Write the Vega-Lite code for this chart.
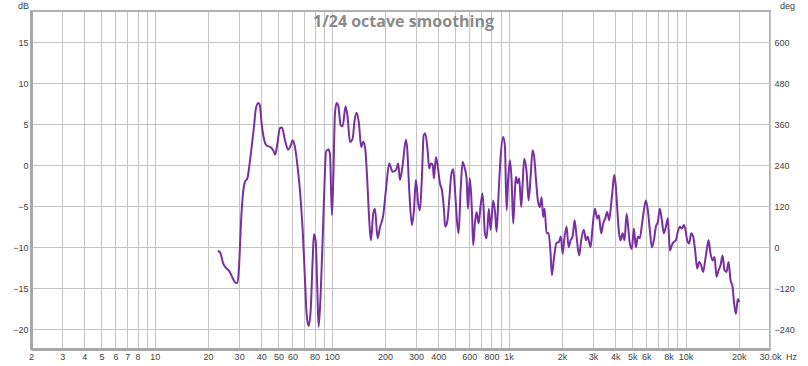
{
  "$schema": "https://vega.github.io/schema/vega-lite/v6.json",
  "width": 739,
  "height": 338,
  "autosize": {"type": "none"},
  "padding": {"left": 31, "top": 11, "right": 38, "bottom": 17},
  "background": "white",
  "config": {
    "view": {"stroke": "#b0b0b0", "strokeWidth": 2},
    "font": "Liberation Sans"
  },
  "title": {
    "text": "1/24 octave smoothing",
    "color": "#8a8a8a",
    "font": "Open Sans",
    "fontSize": 16,
    "fontWeight": "bold",
    "anchor": "middle",
    "frame": "group",
    "baseline": "bottom",
    "offset": -45,
    "dx": 3
  },
  "datasets": {
    "phase": [{"deg": -240}, {"deg": 600}],
    "fr": [
      {"hz": 22.7, "db": -10.45}, {"hz": 23.4, "db": -10.6}, {"hz": 24.4, "db": -12.0}, {"hz": 25.5, "db": -12.6},
      {"hz": 26.4, "db": -12.9}, {"hz": 27.8, "db": -13.9}, {"hz": 28.8, "db": -14.35}, {"hz": 29.3, "db": -14.3},
      {"hz": 30.1, "db": -11.6}, {"hz": 30.6, "db": -7.9}, {"hz": 31.4, "db": -3.9}, {"hz": 32.4, "db": -2.0},
      {"hz": 33.4, "db": -1.6}, {"hz": 34.2, "db": -0.2}, {"hz": 35.3, "db": 2.2}, {"hz": 36.4, "db": 4.7},
      {"hz": 37.3, "db": 6.9}, {"hz": 38.5, "db": 7.6}, {"hz": 39.3, "db": 7.3}, {"hz": 40.2, "db": 5.1},
      {"hz": 41.4, "db": 3.25}, {"hz": 42.9, "db": 2.4}, {"hz": 45.2, "db": 2.2}, {"hz": 46.8, "db": 1.8},
      {"hz": 48.0, "db": 1.3}, {"hz": 49.3, "db": 2.6}, {"hz": 51.0, "db": 4.5}, {"hz": 52.4, "db": 4.6},
      {"hz": 54.5, "db": 3.05}, {"hz": 56.8, "db": 1.9}, {"hz": 58.7, "db": 2.4}, {"hz": 60.2, "db": 3.05},
      {"hz": 61.8, "db": 2.4}, {"hz": 63.9, "db": 0.2}, {"hz": 66.2, "db": -3.05}, {"hz": 68.6, "db": -7.9},
      {"hz": 70.7, "db": -14.0}, {"hz": 72.2, "db": -18.1}, {"hz": 74.1, "db": -19.6}, {"hz": 76.1, "db": -17.7},
      {"hz": 78.1, "db": -11.6}, {"hz": 79.4, "db": -8.4}, {"hz": 81.2, "db": -9.15}, {"hz": 82.9, "db": -14.8},
      {"hz": 84.4, "db": -19.7}, {"hz": 86.7, "db": -15.6}, {"hz": 88.9, "db": -9.15}, {"hz": 91.3, "db": -1.8},
      {"hz": 92.8, "db": 1.6}, {"hz": 95.6, "db": 1.95}, {"hz": 97.8, "db": 1.4}, {"hz": 100.4, "db": -6.1},
      {"hz": 102.1, "db": -1.8}, {"hz": 104.4, "db": 6.3}, {"hz": 106.7, "db": 7.6}, {"hz": 109.0, "db": 7.3},
      {"hz": 112.4, "db": 4.9}, {"hz": 115.4, "db": 4.75}, {"hz": 119.9, "db": 7.2}, {"hz": 123.1, "db": 5.9},
      {"hz": 126.8, "db": 2.85}, {"hz": 131.4, "db": 3.25}, {"hz": 134.9, "db": 5.5}, {"hz": 138.4, "db": 6.4},
      {"hz": 142.6, "db": 5.1}, {"hz": 146.9, "db": 2.2}, {"hz": 150.8, "db": 2.85}, {"hz": 154.8, "db": 2.0},
      {"hz": 158.9, "db": -1.8}, {"hz": 163.1, "db": -6.7}, {"hz": 166.7, "db": -9.15}, {"hz": 171.8, "db": -5.9},
      {"hz": 175.6, "db": -5.3}, {"hz": 181.9, "db": -8.9}, {"hz": 187.4, "db": -7.6}, {"hz": 195.6, "db": -6.1},
      {"hz": 202.6, "db": -3.05}, {"hz": 211.5, "db": 0.2}, {"hz": 221.1, "db": -0.8}, {"hz": 230.8, "db": -0.6},
      {"hz": 237.8, "db": 0.2}, {"hz": 243.1, "db": -1.8}, {"hz": 251.8, "db": 0.0}, {"hz": 262.8, "db": 3.1},
      {"hz": 267.3, "db": 2.0}, {"hz": 274.4, "db": -3.05}, {"hz": 284.2, "db": -7.3}, {"hz": 291.7, "db": -5.5},
      {"hz": 299.4, "db": -1.8}, {"hz": 308.5, "db": -4.7}, {"hz": 315.4, "db": -5.5}, {"hz": 323.7, "db": -1.4},
      {"hz": 331.0, "db": 3.65}, {"hz": 337.9, "db": 3.9}, {"hz": 348.6, "db": 1.8}, {"hz": 355.9, "db": -0.4},
      {"hz": 363.9, "db": 0.2}, {"hz": 372.1, "db": 0.1}, {"hz": 378.4, "db": -1.6}, {"hz": 388.4, "db": 1.0},
      {"hz": 400.2, "db": -0.6}, {"hz": 409.1, "db": -2.2}, {"hz": 419.9, "db": -3.05}, {"hz": 430.9, "db": -5.3},
      {"hz": 438.3, "db": -7.5}, {"hz": 449.9, "db": -6.9}, {"hz": 461.7, "db": -4.3}, {"hz": 473.8, "db": -1.2},
      {"hz": 486.3, "db": -0.5}, {"hz": 499.1, "db": -3.45}, {"hz": 512.3, "db": -7.1}, {"hz": 521.7, "db": -8.3},
      {"hz": 535.5, "db": -3.05}, {"hz": 549.5, "db": 0.4}, {"hz": 564.0, "db": -0.3}, {"hz": 578.8, "db": -1.6},
      {"hz": 588.8, "db": -5.3}, {"hz": 604.3, "db": -1.6}, {"hz": 620.2, "db": -5.5}, {"hz": 630.9, "db": -9.75},
      {"hz": 645.0, "db": -7.1}, {"hz": 659.4, "db": -5.7}, {"hz": 676.8, "db": -7.1}, {"hz": 694.6, "db": -4.9},
      {"hz": 712.9, "db": -3.45}, {"hz": 734.5, "db": -8.3}, {"hz": 750.9, "db": -8.9}, {"hz": 773.7, "db": -5.3},
      {"hz": 791.0, "db": -7.9}, {"hz": 818.3, "db": -4.3}, {"hz": 839.9, "db": -5.9}, {"hz": 855.3, "db": -8.1},
      {"hz": 877.9, "db": -3.45}, {"hz": 901.0, "db": 1.0}, {"hz": 932.0, "db": 3.45}, {"hz": 952.8, "db": 2.4},
      {"hz": 974.1, "db": -5.5}, {"hz": 994.5, "db": -1.6}, {"hz": 1016.8, "db": 0.6}, {"hz": 1039.5, "db": -1.8},
      {"hz": 1061.6, "db": -7.1}, {"hz": 1085.3, "db": -3.05}, {"hz": 1099.4, "db": -1.4}, {"hz": 1123.9, "db": -2.2},
      {"hz": 1147.7, "db": -1.6}, {"hz": 1178.0, "db": -5.1}, {"hz": 1199.6, "db": -2.4}, {"hz": 1224.7, "db": 0.8},
      {"hz": 1263.7, "db": -0.8}, {"hz": 1297.0, "db": -4.3}, {"hz": 1331.2, "db": -1.4}, {"hz": 1366.3, "db": 1.8},
      {"hz": 1395.2, "db": 1.0}, {"hz": 1426.3, "db": -1.6}, {"hz": 1463.9, "db": -4.3}, {"hz": 1502.4, "db": -5.1},
      {"hz": 1536.0, "db": -3.9}, {"hz": 1568.2, "db": -6.3}, {"hz": 1597.0, "db": -5.3}, {"hz": 1639.1, "db": -8.3},
      {"hz": 1682.3, "db": -8.25}, {"hz": 1726.7, "db": -10.8}, {"hz": 1756.2, "db": -13.4}, {"hz": 1802.5, "db": -11.4},
      {"hz": 1862.1, "db": -9.5}, {"hz": 1923.7, "db": -9.35}, {"hz": 1974.4, "db": -8.7}, {"hz": 2018.4, "db": -10.8},
      {"hz": 2071.6, "db": -8.7}, {"hz": 2126.2, "db": -7.5}, {"hz": 2182.3, "db": -10.0}, {"hz": 2239.9, "db": -9.15},
      {"hz": 2299.0, "db": -8.7}, {"hz": 2359.6, "db": -6.7}, {"hz": 2421.9, "db": -8.7}, {"hz": 2504.9, "db": -11.0},
      {"hz": 2570.9, "db": -9.15}, {"hz": 2663.0, "db": -7.85}, {"hz": 2733.3, "db": -9.15}, {"hz": 2794.5, "db": -8.7},
      {"hz": 2905.6, "db": -10.0}, {"hz": 2982.2, "db": -7.5}, {"hz": 3073.0, "db": -5.3}, {"hz": 3166.4, "db": -6.5},
      {"hz": 3236.4, "db": -6.1}, {"hz": 3334.8, "db": -8.3}, {"hz": 3422.7, "db": -7.1}, {"hz": 3512.9, "db": -6.5},
      {"hz": 3605.4, "db": -5.7}, {"hz": 3700.4, "db": -6.7}, {"hz": 3797.9, "db": -4.7}, {"hz": 3867.6, "db": -3.05},
      {"hz": 3949.3, "db": -1.2}, {"hz": 4037.6, "db": -2.65}, {"hz": 4106.7, "db": -5.1}, {"hz": 4198.5, "db": -8.1},
      {"hz": 4292.4, "db": -9.15}, {"hz": 4405.5, "db": -8.3}, {"hz": 4521.6, "db": -9.15}, {"hz": 4640.8, "db": -5.9},
      {"hz": 4738.3, "db": -7.5}, {"hz": 4844.1, "db": -9.55}, {"hz": 4971.8, "db": -10.2}, {"hz": 5102.9, "db": -7.7},
      {"hz": 5237.4, "db": -10.0}, {"hz": 5375.5, "db": -8.7}, {"hz": 5517.2, "db": -8.9}, {"hz": 5662.6, "db": -7.3},
      {"hz": 5811.9, "db": -5.5}, {"hz": 5965.1, "db": -4.3}, {"hz": 6122.3, "db": -5.5}, {"hz": 6283.7, "db": -7.9},
      {"hz": 6449.4, "db": -10.0}, {"hz": 6619.4, "db": -9.15}, {"hz": 6793.9, "db": -7.5}, {"hz": 6973.0, "db": -6.9},
      {"hz": 7156.8, "db": -5.3}, {"hz": 7345.5, "db": -6.7}, {"hz": 7539.1, "db": -8.3}, {"hz": 7737.9, "db": -7.5},
      {"hz": 7941.9, "db": -6.5}, {"hz": 8151.3, "db": -10.4}, {"hz": 8366.1, "db": -9.75}, {"hz": 8586.7, "db": -9.35},
      {"hz": 8813.1, "db": -9.15}, {"hz": 9045.4, "db": -8.1}, {"hz": 9283.8, "db": -7.5}, {"hz": 9528.6, "db": -7.7},
      {"hz": 9779.8, "db": -7.3}, {"hz": 9997, "db": -7.9}, {"hz": 10209, "db": -9.15}, {"hz": 10478, "db": -9.55},
      {"hz": 10754, "db": -8.3}, {"hz": 11038, "db": -8.7}, {"hz": 11329, "db": -10.4}, {"hz": 11627, "db": -12.6},
      {"hz": 11934, "db": -11.8}, {"hz": 12248, "db": -12.2}, {"hz": 12571, "db": -13.0}, {"hz": 12903, "db": -11.6},
      {"hz": 13243, "db": -10.0}, {"hz": 13486, "db": -9.15}, {"hz": 13842, "db": -10.8}, {"hz": 14207, "db": -11.6},
      {"hz": 14581, "db": -11.2}, {"hz": 14966, "db": -13.6}, {"hz": 15360, "db": -12.8}, {"hz": 15765, "db": -12.2},
      {"hz": 16181, "db": -11.0}, {"hz": 16607, "db": -12.8}, {"hz": 17045, "db": -13.0}, {"hz": 17494, "db": -11.8},
      {"hz": 17955, "db": -14.0}, {"hz": 18428, "db": -14.8}, {"hz": 18741, "db": -16.5}, {"hz": 19236, "db": -18.1},
      {"hz": 19743, "db": -16.3}, {"hz": 20083, "db": -16.7}
    ]
  },
  "layer": [
    {
      "data": {"name": "phase"},
      "mark": {"type": "point", "opacity": 0},
      "encoding": {
        "y": {
          "field": "deg",
          "type": "quantitative",
          "scale": {"domain": [-297.6, 691.2], "nice": false, "zero": false},
          "axis": {
            "orient": "right",
            "values": [-240, -120, 0, 120, 240, 360, 480, 600],
            "grid": false,
            "ticks": false,
            "domain": false,
            "labelFontSize": 9,
            "labelColor": "#404040",
            "labelPadding": 4,
            "title": "deg",
            "titleFontSize": 9,
            "titleFontWeight": "normal",
            "titleColor": "#404040",
            "titleAngle": 0,
            "titleAlign": "center",
            "titleBaseline": "middle",
            "titleX": 17,
            "titleY": -6
          }
        }
      }
    },
    {
      "data": {"name": "fr"},
      "mark": {"type": "line", "color": "#7830A0", "strokeWidth": 2, "interpolate": "monotone"},
      "encoding": {
        "x": {
          "field": "hz",
          "type": "quantitative",
          "scale": {"type": "log", "domain": [2, 30000], "nice": false},
          "axis": {
            "values": [2, 3, 4, 5, 6, 7, 8, 9, 10, 20, 30, 40, 50, 60, 70, 80, 90, 100, 200, 300, 400, 500, 600, 700, 800, 900, 1000, 2000, 3000, 4000, 5000, 6000, 7000, 8000, 9000, 10000, 20000, 30000],
            "labelExpr": "(datum.value == 9 || datum.value == 70 || datum.value == 90 || datum.value == 500 || datum.value == 700 || datum.value == 900 || datum.value == 7000 || datum.value == 9000) ? '' : (datum.value == 30000 ? '30.0k' : (datum.value >= 1000 ? (datum.value / 1000) + 'k' : '' + datum.value))",
            "labelOverlap": false,
            "labelFlush": false,
            "labelFontSize": 9,
            "labelColor": "#404040",
            "labelPadding": 3,
            "ticks": false,
            "grid": true,
            "gridColor": "#c4c4c4",
            "gridWidth": 1,
            "domain": true,
            "domainColor": "#a8a8a8",
            "domainWidth": 3,
            "title": "Hz",
            "titleFontSize": 9,
            "titleFontWeight": "normal",
            "titleColor": "#404040",
            "titleAlign": "center",
            "titleBaseline": "middle",
            "titleX": 760,
            "titleY": 7
          }
        },
        "y": {
          "field": "db",
          "type": "quantitative",
          "scale": {"domain": [-22.4, 18.8], "nice": false, "zero": false},
          "axis": {
            "values": [-20, -15, -10, -5, 0, 5, 10, 15],
            "labelFontSize": 9,
            "labelColor": "#404040",
            "labelPadding": 3,
            "ticks": false,
            "grid": true,
            "gridColor": "#c4c4c4",
            "gridWidth": 1,
            "domain": true,
            "domainColor": "#a8a8a8",
            "domainWidth": 3,
            "title": "dB",
            "titleFontSize": 9,
            "titleFontWeight": "normal",
            "titleColor": "#404040",
            "titleAngle": 0,
            "titleAlign": "center",
            "titleBaseline": "middle",
            "titleX": -8,
            "titleY": -6
          }
        }
      }
    }
  ],
  "resolve": {"scale": {"y": "independent"}}
}
